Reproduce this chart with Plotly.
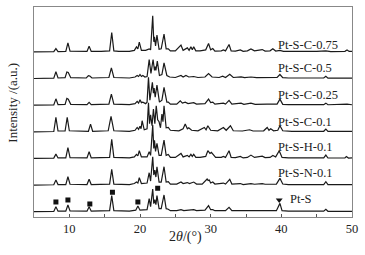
import plotly.graph_objects as go

# ---- data: (2theta, intensity above baseline, a.u.) ----
pts_S = [(5,0),(7.8,0.3),(8.1,5),(8.4,0.5),(9.5,0.5),(9.8,6.7),(10.1,0.8),(12.5,0.5),(12.8,5),(13.1,0.5),
         (15.7,1),(16.0,16),(16.3,1),(18.5,0.5),(19.4,1.5),(19.7,5.7),(20.0,1.5),(21.0,2),(21.3,13),(21.5,5),
         (21.8,22.7),(21.95,8),(22.1,12),(22.25,7),(22.4,16),(22.7,3),(23.0,3),(23.4,16.7),(23.7,3),(24.0,2.5),
         (24.3,1),(25.2,1),(25.8,2),(26.2,1),(27.6,2),(28.0,1),(29.2,1.5),(29.7,6),(30.0,2),(30.3,2),(30.6,1),
         (31.8,1.5),(32.1,1),(32.6,4.3),(33.0,1),(34.2,1),(35.5,1),(37.3,1),(38.9,1.5),(39.3,1),(39.8,8.3),
         (40.1,1),(41,0.5),(46.0,0.5),(46.3,2.3),(46.6,0.4),(50,0.4)]
pts_N01 = [(5,0),(7.8,0.3),(8.1,5),(8.4,0.5),(9.5,0.5),(9.8,8.3),(10.1,0.8),(12.5,0.5),(12.8,5.7),(13.1,0.5),
           (15.7,1),(16.0,15.7),(16.3,1),(18.5,0.5),(19.2,1.5),(19.5,3),(19.7,2),(19.9,7.3),(20.2,1.5),(21.0,2),
           (21.3,12.3),(21.5,4),(21.8,28.3),(21.95,10),(22.1,15),(22.25,8),(22.4,18.3),(22.7,3),(23.0,3),
           (23.4,18.3),(23.7,3),(24.0,3.5),(24.3,1),(25.2,1),(25.8,3),(26.1,1.5),(26.7,2.5),(27.0,1.5),(27.6,3),
           (28.0,1),(28.8,1),(29.5,6),(29.65,4.5),(29.8,5),(30.0,2),(30.3,3),(30.6,1),(31.8,2),(32.1,1),
           (32.7,5.7),(33.0,1),(34.2,1.5),(34.6,0.5),(35.7,1.5),(36.2,0.8),(37.3,1.5),(37.7,0.8),(38.9,1.5),
           (39.3,1),(39.8,6.7),(40.2,1),(41,0.5),(46.0,0.5),(46.3,3.3),(46.6,0.4),(50,0.4)]
pts_H01 = [(5,0),(7.8,0.3),(8.1,4.3),(8.4,0.5),(9.5,0.5),(9.8,10.7),(10.1,0.8),(12.5,0.5),(12.8,6.7),(13.1,0.5),
           (15.7,1),(16.0,19),(16.3,1),(18.5,0.5),(19.2,1.5),(19.5,4),(19.7,2.5),(19.9,7.7),(20.2,1.5),(21.0,1.5),
           (21.3,6.7),(21.5,3),(21.8,33.3),(21.95,10),(22.05,18),(22.2,7),(22.4,15),(22.7,3),(23.0,3),(23.4,18.3),
           (23.7,3),(24.0,4),(24.3,1),(25.0,1),(25.8,5),(26.1,1.5),(26.7,3),(26.95,1.5),(27.2,4),(27.4,2),
           (27.6,4),(27.9,1),(28.5,1),(29.3,2),(29.6,7.7),(29.9,5),(30.1,6),(30.4,3),(30.7,1),(31.5,1),(31.8,2),
           (32.1,1),(32.6,7.7),(32.9,1),(33.5,0.8),(34.2,2),(34.6,0.5),(35.2,1),(35.7,3.3),(36.2,1),(37.3,2.3),
           (37.7,0.8),(38.4,1),(38.8,3),(39.2,1.5),(39.7,7.7),(40.1,1),(41,0.5),(46.0,0.5),(46.3,3.3),(46.6,0.4),
           (49.0,0.5),(49.2,1.8),(49.5,0.4),(50,0.5)]
pts_C01 = [(5,0),(7.8,0.3),(8.1,14.3),(8.4,0.8),(9.4,0.8),(9.7,14.3),(10.0,1),(12.7,0.5),(13.0,7.7),(13.3,0.5),
           (15.5,1),(15.9,15.3),(16.3,1),(18.5,0.5),(19.3,1.5),(19.6,4.3),(19.8,2.5),(20.0,5.5),(20.15,3),
           (20.3,11),(20.6,2),(21.0,3),(21.2,29),(21.35,8),(21.5,17),(21.7,6),(21.9,22.7),(22.1,8),(22.3,26),
           (22.5,12),(22.7,10),(22.9,4),(23.1,17.7),(23.25,10),(23.4,26),(23.7,4),(24.0,4.3),(24.3,1.5),(25.5,1),
           (26.1,3),(26.4,7.7),(26.7,3),(26.9,4),(27.3,1.5),(28.2,1),(29.1,4.3),(29.35,2),(29.6,6),(30.0,1.5),
           (31.0,1),(31.8,4.3),(32.2,1.5),(32.8,6),(33.2,1),(34.5,0.8),(35.5,2),(36,0.8),(37.5,1),(38.0,4.3),
           (38.25,1.5),(38.5,3),(38.9,1),(39.5,1.5),(39.8,6),(40.2,1),(41.5,0.5),(46.0,0.5),(46.3,2.7),(46.6,0.4),
           (50,0.4)]
pts_C025 = [(5,0),(7.8,0.3),(8.1,6.3),(8.4,0.5),(9.4,0.8),(9.65,6.7),(9.85,6),(10.2,0.8),(12.5,0.5),(12.8,2.7),
            (13.1,0.5),(15.6,1),(15.95,11),(16.3,1),(18.5,0.5),(19.3,1.5),(19.6,3.7),(19.8,2),(20.0,5.3),
            (20.2,2.5),(20.4,3),(20.8,1.5),(21.0,3),(21.2,27.7),(21.4,5),(21.75,22.7),(21.9,12),(22.0,17),
            (22.15,8),(22.4,20),(22.75,3),(23.1,5),(23.4,17.7),(23.8,3),(24.0,3),(24.3,1),(25.2,1),(25.7,4.3),
            (26.0,2),(26.4,3),(26.8,1.5),(27.6,2.5),(28.0,1),(29.2,1.5),(29.7,6),(30.0,2.5),(30.3,3),(30.6,1),
            (31.8,2),(32.1,1),(32.6,4.7),(33.0,1),(34.3,2),(34.7,0.8),(35.7,2),(36.3,0.8),(38,1),(39.4,1),
            (39.8,6),(40.2,0.8),(41,0.5),(46.0,0.5),(46.3,2),(46.6,0.4),(49.3,1),(50,0.4)]
pts_C05 = [(5,0),(7.8,0.3),(8.1,6.7),(8.4,0.5),(9.4,0.8),(9.65,6.5),(9.85,6.0),(10.2,0.8),(12.4,0.5),(12.7,2.8),
           (12.9,2.5),(13.2,0.5),(15.6,1),(15.95,10.7),(16.3,1),(18.5,0.5),(19.3,1.5),(19.6,3),(19.8,2),(20.0,4),
           (20.2,2),(20.4,3),(20.7,1.5),(21.0,2),(21.3,19),(21.55,5),(21.85,19),(22.05,8),(22.15,12),(22.25,8),
           (22.45,17.3),(22.75,3),(23.1,4),(23.4,15.7),(23.8,3),(24.2,1.5),(25.0,1),(25.8,3),(26.1,1.5),(26.5,3),
           (26.9,1.5),(27.6,2),(28.2,1),(29.2,1.5),(29.7,5),(30.2,1.5),(31.2,1),(31.7,2.3),(32.1,1),(32.7,4.3),
           (33.2,1),(34.3,1.7),(34.8,0.8),(35.7,1.5),(36.5,0.8),(38.0,1),(39.4,1),(39.8,4),(40.2,0.8),(41,0.5),
           (46.0,0.5),(46.3,2.3),(46.6,0.4),(50,0.4)]
pts_C075 = [(5,0),(7.8,0.3),(8.1,3.3),(8.4,0.3),(9.5,0.5),(9.8,9),(10.1,0.8),(12.5,0.5),(12.8,5.7),(13.1,0.5),
            (14.5,0.5),(15.7,1),(16.0,19.3),(16.3,1),(17,0.5),(18.5,0.5),(19.2,1.5),(19.5,5),(19.7,3),(19.9,9.7),
            (20.2,1.5),(20.8,1.5),(21.3,3),(21.5,2),(21.8,36),(21.95,10),(22.05,15),(22.2,6),(22.4,16.7),
            (22.7,2.5),(23.0,3),(23.4,17.7),(23.7,3),(24.0,3),(24.3,1),(25.0,1),(25.8,6.7),(26.1,1.5),(26.7,4),
            (26.95,1.5),(27.2,5),(27.4,2),(27.6,5),(27.9,1),(28.5,1),(29.3,2),(29.7,8.3),(30.0,2),(30.3,3.3),
            (30.6,0.8),(31.5,1),(31.8,2),(32.1,1),(32.6,7.3),(32.9,1),(33.5,0.8),(34.2,2),(34.6,0.5),(35.2,1),
            (35.7,3),(36.2,1),(37.3,2.3),(37.7,0.8),(38.4,1),(38.8,3),(39.2,0.8),(39.8,1.5),(40.3,0.5),(45,0.5),
            (46.3,1),(47,0.3),(49.0,0.5),(49.3,1.8),(49.6,0.4),(50,0.5)]

series_names = ["Pt-S", "Pt-S-N-0.1", "Pt-S-H-0.1", "Pt-S-C-0.1", "Pt-S-C-0.25", "Pt-S-C-0.5", "Pt-S-C-0.75"]
series_pts = [pts_S, pts_N01, pts_H01, pts_C01, pts_C025, pts_C05, pts_C075]

# phase markers on Pt-S pattern (2theta, height above baseline)
square_x = [8.1, 9.8, 12.9, 16.1, 19.7, 22.5]
square_h = [9.7, 11.7, 7.7, 19.4, 9.7, 23.4]
tri_x = [39.7]
tri_h = [11.7]

x_ticks = [10, 20, 30, 40, 50]

# ---- layout parameters ----
base0, step = 5.3, 26.6
label_dy = [12.4, 11.8, 11.2, 10.2, 10.3, 10.4, 7.0]
font = "Liberation Serif, Times New Roman, serif"

fig = go.Figure()
for i, (name, pts) in enumerate(zip(series_names, series_pts)):
    b = base0 + i * step
    fig.add_trace(go.Scatter(x=[p[0] for p in pts], y=[p[1] + b for p in pts], mode="lines",
                             line=dict(color="#1a1a1a", width=1.2), showlegend=False, hoverinfo="skip"))
    fig.add_annotation(x=40.9 if i == 0 else 39.2, y=b + label_dy[i], text=name, showarrow=False,
                       xanchor="left", yanchor="middle", font=dict(family=font, size=12.5, color="#222"))

fig.add_trace(go.Scatter(x=square_x, y=[h + base0 for h in square_h], mode="markers",
                         marker=dict(symbol="square", size=5, color="#111"), showlegend=False))
fig.add_trace(go.Scatter(x=tri_x, y=[h + base0 for h in tri_h], mode="markers",
                         marker=dict(symbol="triangle-down", size=6, color="#111"), showlegend=False))

fig.update_layout(
    width=365, height=255, margin=dict(l=34, r=13, t=7, b=38),
    paper_bgcolor="white", plot_bgcolor="white",
    font=dict(family=font, size=12.5, color="#222"),
    xaxis=dict(range=[5, 50], tickvals=x_ticks, ticks="inside", ticklen=3, tickcolor="#555",
               showline=True, linecolor="#888", linewidth=1, mirror=True, showgrid=False, zeroline=False,
               minor=dict(dtick=5, tick0=5, ticks="inside", ticklen=3, tickcolor="#555"),
               tickfont=dict(size=12.5), automargin=False),
    yaxis=dict(range=[0, 209.7], showticklabels=False, ticks="", showline=True, linecolor="#888",
               linewidth=1, mirror=True, showgrid=False, zeroline=False, automargin=False),
)
fig.add_annotation(xref="paper", yref="paper", x=0.475, y=0, yshift=-20, text="2<i>θ</i>/(°)",
                   showarrow=False, yanchor="middle", font=dict(family=font, size=14))
fig.add_annotation(xref="paper", yref="paper", x=-0.067, y=0.543, text="Intensity /(a.u.)", textangle=-90,
                   showarrow=False, xanchor="center", yanchor="middle", font=dict(family=font, size=13))

fig.write_html("out.html", config={"displayModeBar": False},
               post_script="document.body.style.margin='0';document.body.style.overflow='hidden';")
